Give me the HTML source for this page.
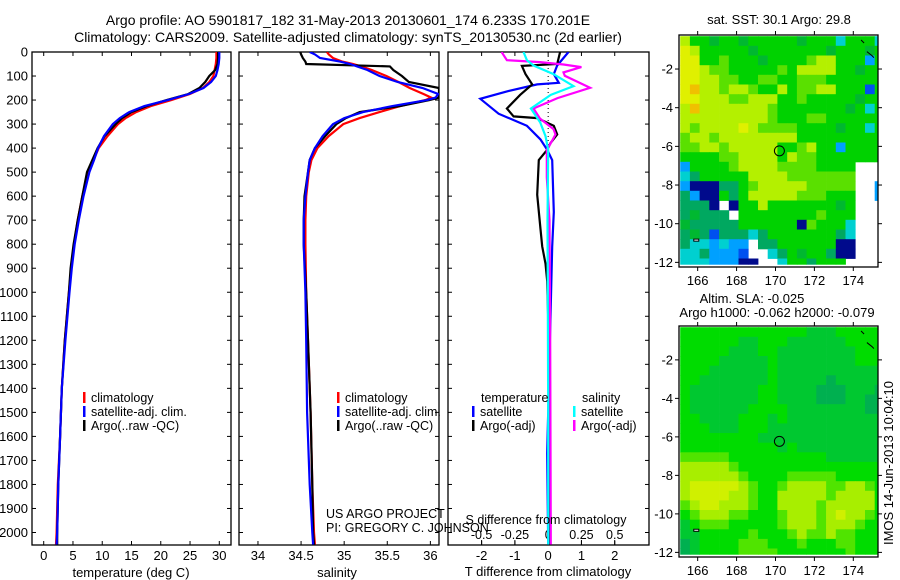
<!DOCTYPE html>
<html><head><meta charset="utf-8">
<style>
html,body{margin:0;padding:0;background:#fff;}
svg{display:block;font-family:"Liberation Sans",sans-serif;}
</style></head>
<body>
<svg id="fig" width="900" height="580" viewBox="0 0 900 580" xmlns="http://www.w3.org/2000/svg">
<rect x="0" y="0" width="900" height="580" fill="#fff"/>
<text x="348" y="25" font-size="14" text-anchor="middle">Argo profile: AO 5901817_182 31-May-2013 20130601_174 6.233S 170.201E</text>
<text x="348" y="42" font-size="14" text-anchor="middle">Climatology: CARS2009. Satellite-adjusted climatology: synTS_20130530.nc (2d earlier)</text>
<g id="g1"></g>
<g id="g2"></g>
<g id="g3"></g>
<g id="m1"></g>
<g id="m2"></g>
<text x="779" y="24" font-size="13" text-anchor="middle">sat. SST: 30.1 Argo: 29.8</text>
<text x="752" y="303" font-size="13" text-anchor="middle">Altim. SLA: -0.025</text>
<text x="777" y="317" font-size="13" text-anchor="middle">Argo h1000: -0.062 h2000: -0.079</text>
<text transform="translate(893,463) rotate(-90)" font-size="13" text-anchor="middle">IMOS 14-Jun-2013 10:04:10</text>
<text x="326" y="518" font-size="12.5">US ARGO PROJECT</text>
<text x="326" y="532" font-size="12.5">PI: GREGORY C. JOHNSON</text>
</svg>
<script>
// ---------- data ----------
const depthLevels = [0,10,25,50,75,100,125,150,175,200,225,250,275,300,350,400,450,500,600,700,800,900,1000,1200,1400,1600,1800,2000,2050];
const tempClim  = [29.5,29.5,29.5,29.4,29.2,29.0,28.3,27.2,25.0,21.8,18.3,15.8,14.0,12.7,10.9,9.4,8.5,7.6,6.6,5.8,5.2,4.7,4.3,3.6,3.1,2.8,2.4,2.2,2.1];
const tempSat   = [30.0,30.0,30.0,29.9,29.7,29.4,28.6,27.3,24.8,21.2,17.2,14.6,13.0,11.8,10.3,9.3,8.6,7.8,6.8,6.0,5.3,4.8,4.4,3.7,3.1,2.8,2.5,2.3,2.2];
const tempArgo  = [29.8,29.8,29.8,29.7,29.3,28.3,27.6,26.6,24.7,21.0,17.6,15.0,13.4,12.3,10.4,9.2,8.3,7.4,6.6,5.8,5.1,4.6,4.3,3.6,3.1,2.8,2.5,2.3,2.3];
const salDepths = [0,10,25,40,50,60,75,100,125,150,175,190,200,225,250,275,300,350,400,450,500,600,700,800,1000,1200,1500,1800,2000,2050];
const salClim   = [34.80,34.82,34.87,34.98,35.10,35.20,35.32,35.49,35.63,35.76,35.92,36.01,35.94,35.65,35.41,35.18,34.99,34.82,34.69,34.62,34.59,34.56,34.55,34.55,34.56,34.58,34.61,34.63,34.65,34.66];
const salSat    = [34.60,34.66,34.72,34.95,35.07,35.15,35.27,35.41,35.62,35.91,36.09,36.06,35.96,35.56,35.22,35.00,34.87,34.75,34.66,34.60,34.58,34.55,34.53,34.53,34.55,34.56,34.57,34.60,34.63,34.64];
const salArgo   = [34.49,34.50,34.52,34.55,34.56,35.53,35.57,35.67,35.75,36.10,36.10,36.10,35.99,35.65,35.18,35.02,34.91,34.78,34.66,34.60,34.58,34.54,34.53,34.53,34.56,34.58,34.61,34.63,34.64,34.65];
const dTArgoDepth = [0,50,58,92,135,178,235,268,275,307,343,379,407,450,594,737,809,881,953,1200,1500,2050];
const dTArgo      = [0.36,0.27,-0.79,-0.68,-0.48,-0.84,-1.24,-1.04,-0.33,0.17,0.27,0.07,-0.03,-0.28,-0.33,-0.23,-0.18,-0.08,-0.03,0.02,0.05,0.05];
const dTSatDepth  = [0,56,92,128,135,164,195,257,307,364,407,450,666,809,1100,1670,2050];
const dTSat       = [0.61,0.27,0.17,0.32,-0.33,-1.24,-2.04,-1.49,-0.64,-0.23,-0.03,0.12,0.17,0.12,0.07,-0.03,0.0];
const dSSatDepth  = [0,34,56,92,142,178,235,293,350,407,700,1500,2050];
const dSSat       = [-0.185,-0.16,-0.11,0.04,0.19,0.02,-0.13,-0.06,-0.02,0.0,-0.005,0.0,0.0];
const dSArgoDepth = [0,34,42,52,63,85,99,149,192,235,278,321,343,379,407,522,700,1200,2050];
const dSArgo      = [-0.35,-0.31,-0.06,0.115,0.25,0.115,0.125,0.315,0.07,-0.11,-0.06,0.04,0.055,0.02,-0.01,-0.01,0.01,0.015,0.02];
const depthTicks = [0,100,200,300,400,500,600,700,800,900,1000,1100,1200,1300,1400,1500,1600,1700,1800,1900,2000];
const tempTicks = [0,5,10,15,20,25,30];
const salTicks = [34,34.5,35,35.5,36];
const salTickLabels = ["34","34.5","35","35.5","36"];
const dTTicks = [-2,-1,0,1,2];
const dSTicks = [-0.5,-0.25,0,0.25,0.5];
const dSTickLabels = ["-0.5","-0.25","0","0.25","0.5"];
const lonTicks = [166,168,170,172,174];
const latTicks = [-2,-4,-6,-8,-10,-12];
const argoLon = 170.201, argoLat = -6.233;
// SST grid: 0.5 deg cells starting lon 165.1, lat -0.3 (codes)
const sstRows = [
"866566566666566636663","986666656666666566656","996676665666678866626","998776666676888866566",
"998877667766777666666","9o8878876686778866616","998887788866766666566","8o8888888766666665636",
"888888888766677666666","878888987777666656636","788788888888666666666","778878888866786626666",
"666677888868776666666","266667888877776666www","346666688887777777www","200044678888877777ww2",
"420064688888777666ww2","4440w0668666666656www","45444w666666667666www","544444666666076663www",
"454144434666666643www","4332322w4466666600www","3342221ww346566400www","33322200ww3664666wwww"];
const slaRows = [
"cccccccccccccbbbccccc","ccccccbbcccbbbbbbcccc","cccccbbbccbbbbbbbbccc","ccccbbbbbcbbbbbbbbccc",
"cccbbbbbbcbbbbbbbbbbb","ccbbbbbbbcbbbbbabbbbb","cbbbbbbbccbbbbaaabbba","cbbbbbbbccbbbbaaabbaa",
"cbbbbbbccccbbbbbbbbaa","ccbbbbcccbcbbbbbbbbbb","cccbbbcccbbbbbbbbbbbb","ccccccccbbbbbbbbbbbbb",
"ccccccccccbcbbbbbbbbb","dddddccccccccccbbbbbb","eeeeedccccccccccccccc","eeeeeedccccdddddccccc",
"efffffedccdeeeeddeedc","effffeedcceeeeedeeeec","deffeeedcceeeedeeeeec","cdeeeddcccdeeedefeedc",
"bcdddcccccdeeedeeedcc","bbcccccdcccdeddeddccc","abccccdddcccdcccddccc","abccccddddcccccccdccc"];
// ---------- helpers ----------
const NS="http://www.w3.org/2000/svg";
function mk(tag, parent, attrs){const e=document.createElementNS(NS,tag);for(const k in attrs)e.setAttribute(k,attrs[k]);parent.appendChild(e);return e;}
const TOP=52, BOT=545;
const yD = d => TOP + d*(BOT-TOP)/2052;
function lin(d0,d1,r0,r1){return v=>r0+(v-d0)*(r1-r0)/(d1-d0);}
const xT = lin(-2,32,32,231);
const xS = lin(33.78,36.1,239,439);
const xDT = lin(-3.01,3.03,448,649);
const xDS = v => xDT(v*4);

function panel(g,x0,x1,name){
  const clip = mk('clipPath', g, {id:'clip-'+name});
  mk('rect', clip, {x:x0,y:TOP,width:x1-x0,height:BOT-TOP});
  const f = mk('rect', g, {x:x0,y:TOP,width:x1-x0,height:BOT-TOP,fill:'none',stroke:'#000','stroke-width':1.3});
  
  
  depthTicks.forEach(d=>{
    const y=yD(d);
    mk('line',g,{x1:x0,x2:x0+4,y1:y,y2:y,stroke:'#000'});
    mk('line',g,{x1:x1-4,x2:x1,y1:y,y2:y,stroke:'#000'});
  });
  return 'url(#clip-'+name+')';
}
function xticks(g,ticks,labels,xf,ly,fs){
  ticks.forEach((t,i)=>{
    const x=xf(t);
    mk('line',g,{x1:x,x2:x,y1:TOP,y2:TOP+4,stroke:'#000'});
    mk('line',g,{x1:x,x2:x,y1:BOT-4,y2:BOT,stroke:'#000'});
    const tx=mk('text',g,{x:x,y:ly,'font-size':fs||13,'text-anchor':'middle'});
    tx.textContent=labels[i];
    
    
  });
}
function series(g,clip,vals,depths,xf,color,name){
  const pts=vals.map((v,i)=>xf(v).toFixed(1)+','+yD(depths[i]).toFixed(1)).join(' ');
  const p=mk('polyline',g,{points:pts,fill:'none',stroke:color,'stroke-width':2.2,'clip-path':clip,'stroke-linejoin':'miter'});
  
  
}
function legend(g,x,y,color,label,name){
  mk('rect',g,{x:x,y:y-10,width:2.5,height:11,fill:color});
  const t=mk('text',g,{x:x+8,y:y,'font-size':12.5});
  t.textContent=label;
  
  
}
// ---------- panel 1 ----------
const g1=document.getElementById('g1');
const c1=panel(g1,32,231,'temperature-panel');
depthTicks.forEach(d=>{
  const t=mk('text',g1,{x:28,y:yD(d)+4.5,'font-size':13,'text-anchor':'end'});
  t.textContent=String(d);
  
  
});
xticks(g1,tempTicks,tempTicks.map(String),xT,560);
let t1=mk('text',g1,{x:131,y:577,'font-size':13,'text-anchor':'middle'});t1.textContent='temperature (deg C)';


series(g1,c1,tempClim,depthLevels,xT,'#ff0000','temp-climatology-line');
series(g1,c1,tempArgo,depthLevels,xT,'#000000','temp-argo-line');
series(g1,c1,tempSat,depthLevels,xT,'#0000ff','temp-satellite-line');
legend(g1,83,402,'#ff0000','climatology','legend-climatology');
legend(g1,83,416,'#0000ff','satellite-adj. clim.','legend-satellite-adj');
legend(g1,83,430,'#000000','Argo(..raw -QC)','legend-argo');
// ---------- panel 2 ----------
const g2=document.getElementById('g2');
const c2=panel(g2,239,439,'salinity-panel');
xticks(g2,salTicks,salTickLabels,xS,560);
let t2=mk('text',g2,{x:337,y:577,'font-size':13,'text-anchor':'middle'});t2.textContent='salinity';


series(g2,c2,salClim,salDepths,xS,'#ff0000','sal-climatology-line');
series(g2,c2,salArgo,salDepths,xS,'#000000','sal-argo-line');
series(g2,c2,salSat,salDepths,xS,'#0000ff','sal-satellite-line');
legend(g2,337,402,'#ff0000','climatology','legend-climatology-2');
legend(g2,337,416,'#0000ff','satellite-adj. clim.','legend-satellite-adj-2');
legend(g2,337,430,'#000000','Argo(..raw -QC)','legend-argo-2');
// ---------- panel 3 ----------
const g3=document.getElementById('g3');
const c3=panel(g3,448,649,'difference-panel');
dTTicks.forEach(t=>{const x=xDT(t);
  mk('line',g3,{x1:x,x2:x,y1:TOP,y2:TOP+4,stroke:'#000'});
  mk('line',g3,{x1:x,x2:x,y1:BOT-4,y2:BOT,stroke:'#000'});
  const tx=mk('text',g3,{x:x,y:560,'font-size':13,'text-anchor':'middle'});tx.textContent=String(t);
  
  
});
dSTicks.forEach((t,i)=>{const x=xDS(t);
  mk('line',g3,{x1:x,x2:x,y1:BOT-5,y2:BOT,stroke:'#000'});
  const tx=mk('text',g3,{x:x,y:539,'font-size':12.5,'text-anchor':'middle'});tx.textContent=dSTickLabels[i];
  
  
});
mk('line',g3,{x1:xDT(0),x2:xDT(0),y1:TOP,y2:yD(420),stroke:'#000','stroke-dasharray':'1,3','stroke-width':1});
series(g3,c3,dTSat,dTSatDepth,xDT,'#0000ff','t-diff-satellite-line');
series(g3,c3,dTArgo,dTArgoDepth,xDT,'#000000','t-diff-argo-line');
series(g3,c3,dSArgo,dSArgoDepth,xDS,'#ff00ff','s-diff-argo-line');
series(g3,c3,dSSat,dSSatDepth,xDS,'#00ffff','s-diff-satellite-line');
let t3=mk('text',g3,{x:546,y:524,'font-size':12.5,'text-anchor':'middle'});t3.textContent='S difference from climatology';


let t4=mk('text',g3,{x:548,y:576,'font-size':13,'text-anchor':'middle'});t4.textContent='T difference from climatology';


let t5=mk('text',g3,{x:481,y:402,'font-size':12.5});t5.textContent='temperature';


let t6=mk('text',g3,{x:582,y:402,'font-size':12.5});t6.textContent='salinity';


legend(g3,472,416,'#0000ff','satellite','legend-t-satellite');
legend(g3,472,430,'#000000','Argo(-adj)','legend-t-argo');
legend(g3,573,416,'#00ffff','satellite','legend-s-satellite');
legend(g3,573,430,'#ff00ff','Argo(-adj)','legend-s-argo');
// ---------- maps ----------
const sstColors={'0':'#000a8c','1':'#0050f0','2':'#00a0ff','3':'#00d0d0','4':'#00a860','5':'#00b830','6':'#00d200','7':'#5ae000','8':'#b4f000','9':'#e0f000','o':'#f0c000'};
const slaColors={'a':'#00b050','b':'#00c830','c':'#00dc00','d':'#50e400','e':'#a8ee00','f':'#d0f000'};
function map(g,top,bot,rows,colors,name){
  const L=679,R=878;
  const xL=lin(165.04,175.27,L,R);
  const yLat=lin(-0.24,-12.24,top,top+(bot-top)*1.0);
  const clip=mk('clipPath',g,{id:'clip-'+name});mk('rect',clip,{x:L,y:top,width:R-L,height:bot-top});
  const cg=mk('g',g,{'clip-path':'url(#clip-'+name+')'});
  rows.forEach((row,j)=>{
    for(let i=0;i<row.length;i++){
      const c=colors[row[i]]; if(!c) continue;
      const lon0=165.1+0.5*i, lat0=-0.3-0.5*j;
      const x0=xL(lon0), y0=yLat(lat0);
      const latEnd=Math.max(lat0-0.5,-12.1);
      const cell=mk('rect',cg,{x:x0.toFixed(1),y:y0.toFixed(1),width:(xL(lon0+0.5)-x0+0.4).toFixed(1),height:(yLat(latEnd)-y0+0.4).toFixed(1),fill:c});
      
      
    }
  });
  // fill strip above first row
  const f=mk('rect',g,{x:L,y:top,width:R-L,height:bot-top,fill:'none',stroke:'#000','stroke-width':1.3});
  
  
  lonTicks.forEach(t=>{const x=xL(t);
    mk('line',g,{x1:x,x2:x,y1:top-4,y2:top,stroke:'#000'});
    mk('line',g,{x1:x,x2:x,y1:bot,y2:bot+4,stroke:'#000'});
    const tx=mk('text',g,{x:x,y:bot+18,'font-size':13,'text-anchor':'middle'});tx.textContent=String(t);
    
    
  });
  latTicks.forEach(t=>{const y=yLat(t);
    mk('line',g,{x1:L-4,x2:L,y1:y,y2:y,stroke:'#000'});
    mk('line',g,{x1:R,x2:R+4,y1:y,y2:y,stroke:'#000'});
    const tx=mk('text',g,{x:L-6,y:y+4.5,'font-size':13,'text-anchor':'end'});tx.textContent=String(t);
    
    
  });
  const m=mk('circle',g,{cx:xL(argoLon),cy:yLat(argoLat),r:5,fill:'none',stroke:'#000','stroke-width':1});
  
  
  mk('path',g,{d:`M${xL(174.4)} ${yLat(-0.5)} l3 3 M${xL(174.7)} ${yLat(-1.1)} l5 4 l2 2`,stroke:'#000',fill:'none','stroke-width':1});
  mk('path',g,{d:`M${xL(165.8)} ${yLat(-10.8)} h5 v2 h-5 z`,stroke:'#000',fill:'#fff','stroke-width':1});
}
map(document.getElementById('m1'),35,267,sstRows,sstColors,'sst-map');
map(document.getElementById('m2'),326,557,slaRows,slaColors,'sla-map');
</script>
</body></html>
